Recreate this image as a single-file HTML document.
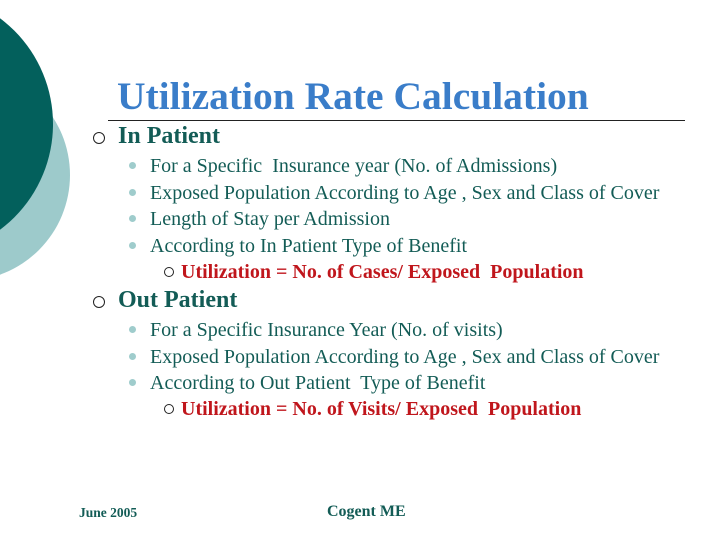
<!DOCTYPE html>
<html><head><meta charset="utf-8"><style>
html,body{margin:0;padding:0}
body{width:720px;height:540px;overflow:hidden;background:#fff;font-family:"Liberation Serif",serif}
#slide{position:relative;width:720px;height:540px;overflow:hidden}
.t{position:absolute;white-space:nowrap;color:#135c56}
.c{position:absolute;border-radius:50%}
.dot{position:absolute;width:7px;height:7px;border-radius:50%;background:#9fcccc}
.ring{position:absolute;border:1.3px solid #222;border-radius:50%;box-sizing:border-box}
</style></head><body>
<div id="slide">
<div class="c" style="left:-142px;top:69px;width:212px;height:212px;background:#9dcacb"></div>
<div class="c" style="left:-211px;top:-8px;width:264px;height:264px;background:#03605c"></div>
<div class="t" style="left:117px;top:73px;font-size:39.5px;font-weight:bold;color:#3a7dc9">Utilization Rate Calculation</div>
<div style="position:absolute;left:108px;top:120px;width:577px;height:1px;background:#222"></div>

<div class="ring" style="left:93px;top:132px;width:12px;height:12px"></div>
<div class="t" style="left:118px;top:123px;font-size:24px;font-weight:bold">In Patient</div>
<div class="dot" style="left:129px;top:162px"></div>
<div class="t" style="left:150px;top:155px;font-size:20px">For a Specific&nbsp; Insurance year (No. of Admissions)</div>
<div class="dot" style="left:129px;top:189px"></div>
<div class="t" style="left:150px;top:182px;font-size:20px">Exposed Population According to Age , Sex and Class of Cover</div>
<div class="dot" style="left:129px;top:215px"></div>
<div class="t" style="left:150px;top:208px;font-size:20px">Length of Stay per Admission</div>
<div class="dot" style="left:129px;top:242px"></div>
<div class="t" style="left:150px;top:235px;font-size:20px">According to In Patient Type of Benefit</div>
<div class="ring" style="left:164px;top:267px;width:10px;height:10px"></div>
<div class="t" style="left:181px;top:261px;font-size:20px;font-weight:bold;color:#c0161c">Utilization = No. of Cases/ Exposed&nbsp; Population</div>

<div class="ring" style="left:93px;top:296px;width:12px;height:12px"></div>
<div class="t" style="left:118px;top:287px;font-size:24px;font-weight:bold">Out Patient</div>
<div class="dot" style="left:129px;top:326px"></div>
<div class="t" style="left:150px;top:319px;font-size:20px">For a Specific Insurance Year (No. of visits)</div>
<div class="dot" style="left:129px;top:353px"></div>
<div class="t" style="left:150px;top:346px;font-size:20px">Exposed Population According to Age , Sex and Class of Cover</div>
<div class="dot" style="left:129px;top:379px"></div>
<div class="t" style="left:150px;top:372px;font-size:20px">According to Out Patient&nbsp; Type of Benefit</div>
<div class="ring" style="left:164px;top:404px;width:10px;height:10px"></div>
<div class="t" style="left:181px;top:398px;font-size:20px;font-weight:bold;color:#c0161c">Utilization = No. of Visits/ Exposed&nbsp; Population</div>

<div class="t" style="left:79px;top:505px;font-size:13.5px;font-weight:bold">June 2005</div>
<div class="t" style="left:327px;top:503px;font-size:16px;font-weight:bold">Cogent ME</div>
</div>
</body></html>
